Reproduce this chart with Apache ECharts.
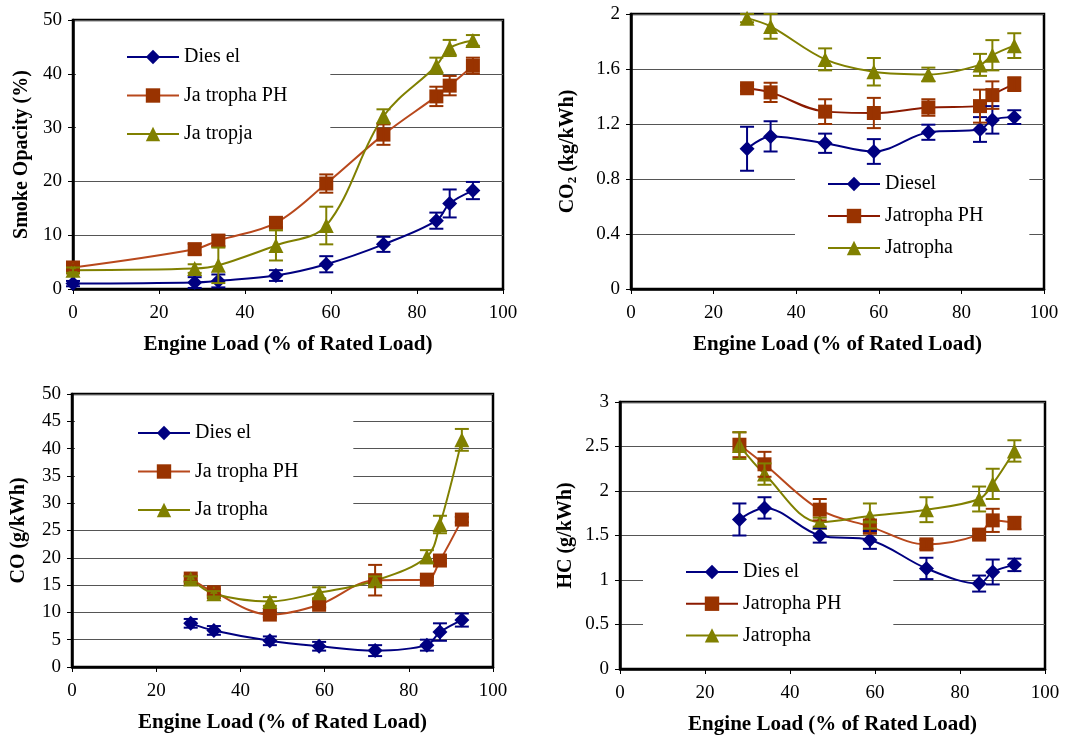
<!DOCTYPE html>
<html><head><meta charset="utf-8">
<script src="https://cdn.jsdelivr.net/npm/echarts@6/dist/echarts.min.js"></script>
<style>html,body{margin:0;padding:0;background:#fff}#c{width:1083px;height:736px}</style>
</head><body><div id="c"></div>
<script>
// ---- Data ----
const smokeLoad = [0, 28.3, 33.8, 47.2, 58.9, 72.2, 84.5, 87.6, 93.0];
const smokeDiesel = [1.0, 1.2, 1.5, 2.5, 4.6, 8.3, 12.7, 15.9, 18.3];
const smokeDieselErr = [0.5, 1.0, 1.2, 1.0, 1.5, 1.4, 1.5, 2.6, 1.6];
const smokePH = [4.0, 7.4, 9.0, 12.3, 19.6, 28.7, 35.8, 37.8, 41.5];
const smokePHErr = [0.5, 1.0, 1.0, 0.8, 1.7, 1.9, 1.8, 1.8, 1.5];
const smokeJat = [3.5, 3.8, 4.4, 8.1, 11.8, 32.1, 41.5, 44.8, 46.2];
const smokeJatErr = [0.5, 0.8, 3.3, 2.8, 3.5, 1.3, 1.5, 1.5, 1.0];

const co2Load = [28.1, 33.8, 47.0, 58.8, 72.0, 84.5, 87.5, 92.8];
const co2Diesel = [1.02, 1.11, 1.06, 1.00, 1.14, 1.16, 1.23, 1.25];
const co2DieselErr = [0.16, 0.11, 0.07, 0.09, 0.055, 0.09, 0.10, 0.05];
const co2PH = [1.46, 1.43, 1.29, 1.28, 1.32, 1.33, 1.41, 1.49];
const co2PHErr = [0.02, 0.07, 0.09, 0.11, 0.06, 0.12, 0.10, 0.05];
const co2Jat = [1.97, 1.91, 1.67, 1.58, 1.56, 1.63, 1.70, 1.77];
const co2JatErr = [0.03, 0.09, 0.08, 0.10, 0.05, 0.08, 0.11, 0.09];

const coLoad = [28.2, 33.7, 47.0, 58.7, 72.0, 84.3, 87.4, 92.6];
const coDiesel = [8.0, 6.7, 4.8, 3.8, 3.0, 4.0, 6.4, 8.6];
const coDieselErr = [0.8, 0.8, 0.8, 0.8, 1.0, 1.0, 1.6, 1.2];
const coPH = [16.2, 13.7, 9.6, 11.4, 15.9, 16.0, 19.5, 27.0];
const coPHErr = [0.5, 0.5, 0.5, 0.5, 2.8, 0.5, 0.5, 0.5];
const coJat = [16.1, 13.4, 12.0, 13.6, 15.8, 20.2, 26.1, 41.6];
const coJatErr = [0.5, 0.5, 0.8, 1.0, 0.8, 1.2, 1.6, 2.0];

const hcLoad = [28.1, 34.0, 47.0, 58.8, 72.1, 84.5, 87.7, 92.8];
const hcDiesel = [1.68, 1.81, 1.50, 1.45, 1.13, 0.96, 1.09, 1.17];
const hcDieselErr = [0.18, 0.12, 0.08, 0.10, 0.12, 0.09, 0.14, 0.07];
const hcPH = [2.52, 2.30, 1.79, 1.60, 1.40, 1.51, 1.67, 1.64];
const hcPHErr = [0.14, 0.14, 0.12, 0.08, 0.05, 0.05, 0.13, 0.07];
const hcJat = [2.51, 2.19, 1.65, 1.72, 1.79, 1.91, 2.08, 2.45];
const hcJatErr = [0.15, 0.12, 0.05, 0.14, 0.14, 0.14, 0.17, 0.12];

const xTitle = 'Engine Load (% of Rated Load)';
const yTitles = ['Smoke Opacity (%)', 'CO{sub|2} (kg/kWh)', 'CO (g/kWh)', 'HC (g/kWh)'];
const legendNames = [
  ['Dies el', 'Ja tropha PH', 'Ja tropja'],
  ['Diesel', 'Jatropha PH', 'Jatropha'],
  ['Dies el', 'Ja tropha PH', 'Ja tropha'],
  ['Dies el', 'Jatropha PH', 'Jatropha']
];
const yMax = [50, 2, 50, 3];
const yInterval = [10, 0.4, 5, 0.5];

// ---- Styling / layout ----
const FONT = "'Liberation Serif', 'DejaVu Serif', serif";
const C_DIESEL = '#000080', C_PH = '#993300', C_JAT = '#808000';
const LINE_PH = '#b8481c';
const grids = [
  {left: 73, top: 20, width: 430, height: 269},
  {left: 631, top: 14, width: 413, height: 275},
  {left: 72, top: 394, width: 421, height: 273},
  {left: 620, top: 402, width: 425, height: 272}
];
const yNameGap = [41, 52, 43, 44];
const legendPos = [
  {left: 76, top: 30, padding: [17, 43, 11, 50], itemGap: 18.5},
  {left: 795, top: 170, padding: [4, 46, 12, 32], itemGap: 12},
  {left: 75, top: 400, padding: [23, 55, 5, 62], itemGap: 18.5},
  {left: 643, top: 556, padding: [6, 52, 10, 42], itemGap: 11.7}
];

const panels = [
  [smokeLoad, [[smokeDiesel, smokeDieselErr], [smokePH, smokePHErr], [smokeJat, smokeJatErr]]],
  [co2Load, [[co2Diesel, co2DieselErr], [co2PH, co2PHErr], [co2Jat, co2JatErr]]],
  [coLoad, [[coDiesel, coDieselErr], [coPH, coPHErr], [coJat, coJatErr]]],
  [hcLoad, [[hcDiesel, hcDieselErr], [hcPH, hcPHErr], [hcJat, hcJatErr]]]
];

const markerColors = [C_DIESEL, C_PH, C_JAT];
const lineColors = [C_DIESEL, LINE_PH, C_JAT];
const symbols = ['diamond', 'rect', 'triangle'];
const symbolSizes = [15, 14, 15];

const option = {
  animation: false,
  backgroundColor: '#fff',
  grid: grids.map(g => Object.assign({show: true, borderColor: '#000', borderWidth: 2.5, backgroundColor: 'transparent'}, g)),
  xAxis: grids.map((g, i) => ({
    type: 'value', gridIndex: i, min: 0, max: 100, interval: 20,
    name: xTitle, nameLocation: 'middle', nameGap: 45,
    nameTextStyle: {fontFamily: FONT, fontSize: 21, fontWeight: 'bold', color: '#000'},
    axisLine: {show: true, lineStyle: {color: '#000', width: 2.5}},
    axisTick: {show: true, length: 5, lineStyle: {color: '#000', width: 1}},
    axisLabel: {fontFamily: FONT, fontSize: 19, color: '#000', margin: 15},
    splitLine: {show: false}
  })),
  yAxis: grids.map((g, i) => ({
    type: 'value', gridIndex: i, min: 0, max: yMax[i], interval: yInterval[i],
    name: yTitles[i], nameLocation: 'middle', nameRotate: 90, nameGap: yNameGap[i],
    nameTextStyle: {fontFamily: FONT, fontSize: 20, fontWeight: 'bold', color: '#000',
      rich: {sub: {fontFamily: FONT, fontSize: 13, fontWeight: 'bold', color: '#000', padding: [10, 0, 0, 0]}}},
    axisLine: {show: true, lineStyle: {color: '#000', width: 2.5}},
    axisTick: {show: true, length: 5, lineStyle: {color: '#000', width: 1}},
    axisLabel: {fontFamily: FONT, fontSize: 19, color: '#000', margin: 11},
    splitLine: {show: true, lineStyle: {color: '#555', width: 1}}
  })),
  legend: legendPos.map((p, i) => ({
    orient: 'vertical', left: p.left, top: p.top, padding: p.padding, itemGap: p.itemGap,
    backgroundColor: '#fff', itemWidth: 52, itemHeight: 18,
    data: legendNames[i], selectedMode: false,
    textStyle: {fontFamily: FONT, fontSize: 20, color: '#000', lineHeight: 20}
  })),
  series: []
};

panels.forEach(([load, sets], i) => {
  sets.forEach(([vals, errs], k) => {
    const col = markerColors[k];
    option.series.push({
      type: 'custom', name: 'err' + i + k, xAxisIndex: i, yAxisIndex: i, z: 3, silent: true,
      encode: {x: 0, y: [1, 2]},
      data: load.map((x, j) => [x, vals[j] - errs[j], vals[j] + errs[j]]),
      renderItem: (params, api) => {
        const x = api.value(0);
        const lo = api.coord([x, api.value(1)]);
        const hi = api.coord([x, api.value(2)]);
        const w = 7, st = {stroke: col, lineWidth: 2};
        return {type: 'group', children: [
          {type: 'line', shape: {x1: lo[0], y1: lo[1], x2: hi[0], y2: hi[1]}, style: st},
          {type: 'line', shape: {x1: lo[0] - w, y1: lo[1], x2: lo[0] + w, y2: lo[1]}, style: st},
          {type: 'line', shape: {x1: hi[0] - w, y1: hi[1], x2: hi[0] + w, y2: hi[1]}, style: st}
        ]};
      }
    });
    option.series.push({
      type: 'line', name: legendNames[i][k], xAxisIndex: i, yAxisIndex: i, z: 2,
      data: load.map((x, j) => [x, vals[j]]),
      smooth: 0.35, symbol: symbols[k], symbolSize: symbolSizes[k],
      lineStyle: {color: (i === 1 && k === 1) ? '#8b1a00' : lineColors[k], width: 2},
      itemStyle: {color: col}
    });
  });
});

const chart = echarts.init(document.getElementById('c'), null, {renderer: 'canvas'});
chart.setOption(option);
</script></body></html>
